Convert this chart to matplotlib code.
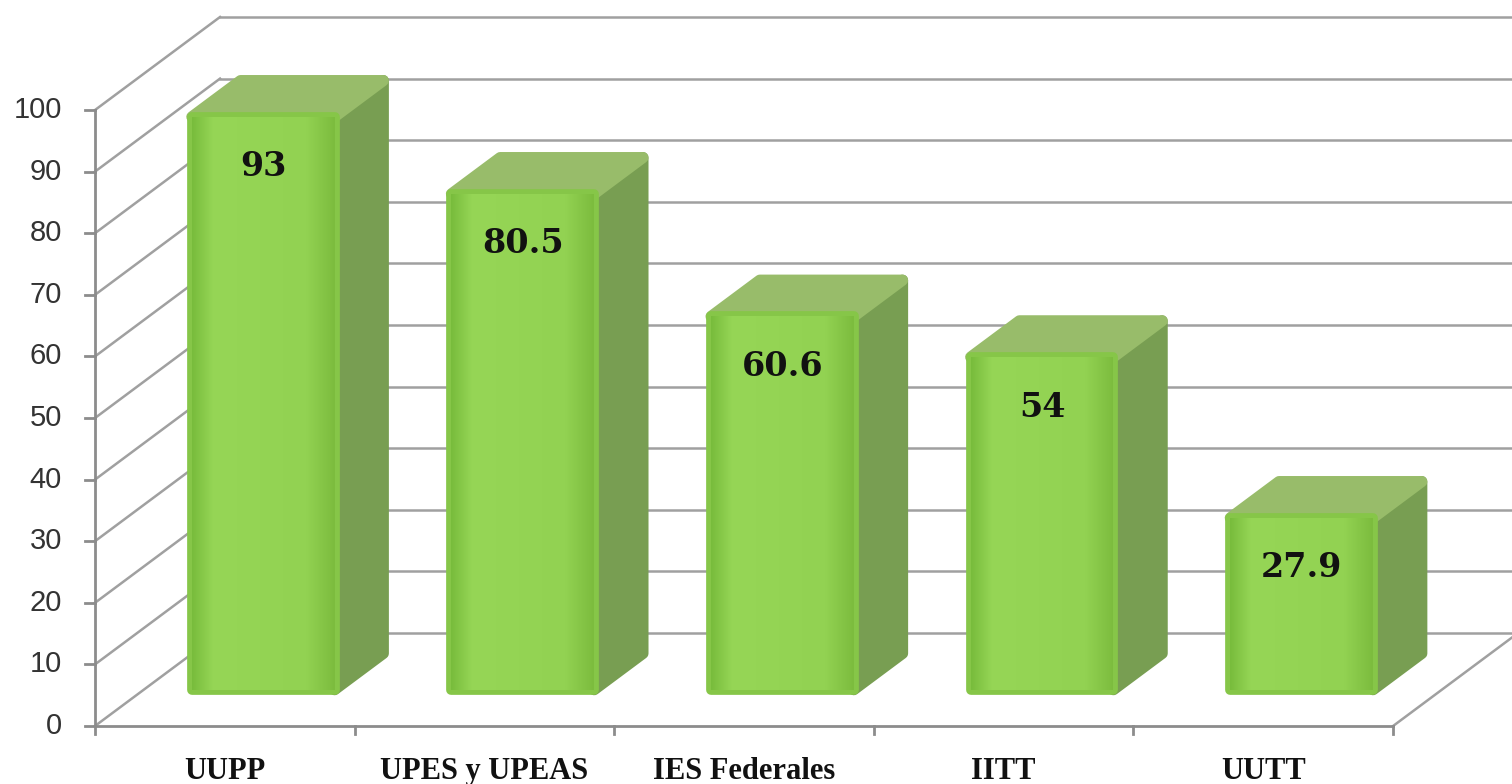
import numpy as np
import matplotlib
matplotlib.use("Agg")
from matplotlib import pyplot as plt
from matplotlib.patches import Polygon

# data
categories = ["UUPP", "UPES y UPEAS", "IES Federales", "IITT", "UUTT"]
values = [93, 80.5, 60.6, 54, 27.9]
value_labels = ["93", "80.5", "60.6", "54", "27.9"]
yticks = list(range(0, 101, 10))

# oblique "3D" layout (category units / value units)
DX, DY = 0.4815, 15.1        # full depth offset of the back wall
D0, D1 = 0.39, 0.78          # front and back depth of the bars (fraction)
BAR_C, BAR_HW = 0.46, 0.275  # bar centre offset and half width inside a category
n = len(categories)

fig = plt.figure(figsize=(15.12, 7.84), dpi=100)
ax = fig.add_axes([0, 0, 1, 1])
ax.set_xlim(-0.366, 5.458)
ax.set_ylim(-9.42, 117.86)
ax.axis("off")

grid_col = "#a0a0a0"
axis_col = "#8c8c8c"

# back wall gridlines + side wall diagonals
for t in yticks:
    ax.plot([DX, n + DX], [t + DY, t + DY], color=grid_col, lw=1.8, zorder=1)
    ax.plot([0, DX], [t, t + DY], color=grid_col, lw=1.8, zorder=1)
# floor right edge
ax.plot([n, n + DX], [0, DY], color=grid_col, lw=1.8, zorder=1)

# front axes
ax.plot([0, 0], [0, yticks[-1]], color=axis_col, lw=2, zorder=2)
ax.plot([0, n], [0, 0], color=axis_col, lw=2, zorder=2)
for t in yticks:
    ax.plot([-0.04, 0], [t, t], color=axis_col, lw=2, zorder=2)
    ax.text(-0.128, t, str(t), ha="right", va="center", fontsize=21,
            family="Liberation Sans", color="#333333")
for i in range(n + 1):
    ax.plot([i, i], [0, -1.3], color=axis_col, lw=2, zorder=2)
for i, c in enumerate(categories):
    ax.text(i + 0.5, -7.4, c, ha="center", va="center", fontsize=22,
            family="Liberation Serif", fontweight="bold", color="#111111")

# gradient for front faces
grad_stops = np.array([[120, 188, 60], [150, 214, 86], [146, 210, 82], [124, 188, 62]]) / 255
xs = np.linspace(0, 1, 256)
grad = np.stack([np.interp(xs, [0, 0.15, 0.8, 1], grad_stops[:, k]) for k in range(3)], axis=-1)
grad = grad[np.newaxis, :, :]

for i, v in enumerate(values):
    xl = i + BAR_C - BAR_HW
    xr = i + BAR_C + BAR_HW
    fx0, fy0 = D0 * DX, D0 * DY
    fx1, fy1 = D1 * DX, D1 * DY
    z = 5 + i
    side = Polygon([(xr + fx0, fy0), (xr + fx1, fy1), (xr + fx1, v + fy1), (xr + fx0, v + fy0)],
                   closed=True, facecolor="#789e52", edgecolor="#789e52", lw=8,
                   joinstyle="round", zorder=z)
    top = Polygon([(xl + fx0, v + fy0), (xr + fx0, v + fy0), (xr + fx1, v + fy1), (xl + fx1, v + fy1)],
                  closed=True, facecolor="#98bc6a", edgecolor="#98bc6a", lw=8,
                  joinstyle="round", zorder=z)
    front = Polygon([(xl + fx0, fy0), (xr + fx0, fy0), (xr + fx0, v + fy0), (xl + fx0, v + fy0)],
                    closed=True, facecolor="#92d050", edgecolor="#86c648", lw=7,
                    joinstyle="round", zorder=z + 0.1)
    ax.add_patch(side)
    ax.add_patch(top)
    ax.add_patch(front)
    im = ax.imshow(grad, extent=(xl + fx0, xr + fx0, fy0, v + fy0), aspect="auto",
                   zorder=z + 0.2, interpolation="bilinear")
    im.set_clip_path(front)
    ax.annotate(value_labels[i], (i + BAR_C + fx0, v + fy0), xytext=(0, -36),
                textcoords="offset points", ha="center", va="center", fontsize=24,
                family="DejaVu Serif", fontweight="bold", color="#111111",
                zorder=z + 0.5)

ax.set_xlim(-0.366, 5.458)
ax.set_ylim(-9.42, 117.86)
fig.savefig("out.png", dpi=100)
